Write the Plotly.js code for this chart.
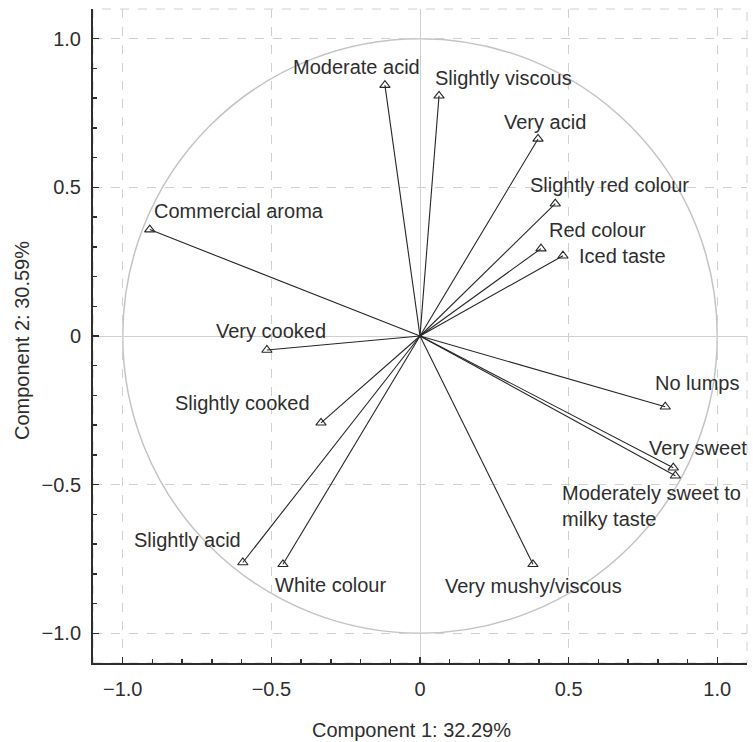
<!DOCTYPE html>
<html>
<head>
<meta charset="utf-8">
<script src="https://cdn.plot.ly/plotly-3.0.1.min.js"></script>
<style>html,body{margin:0;padding:0;background:#fff;}#chart{width:753px;height:742px;}</style>
</head>
<body>
<div id="chart"></div>
<script>
// Variable names
var labels = ["Commercial aroma","Moderate acid","Slightly viscous","Very acid","Slightly red colour",
  "Red colour","Iced taste","Very cooked","Slightly cooked","No lumps","Very sweet",
  "Moderately sweet to<br>milky taste","Slightly acid","White colour","Very mushy/viscous"];
// Component 1 loadings
var comp1 = [-0.909,-0.118,0.064,0.397,0.455,0.407,0.481,-0.515,-0.333,0.825,0.852,0.859,-0.596,-0.461,0.380];
// Component 2 loadings
var comp2 = [0.358,0.844,0.808,0.663,0.445,0.294,0.270,-0.047,-0.292,-0.238,-0.443,-0.470,-0.762,-0.768,-0.768];
// Tick labels
var tickVals = [-1,-0.5,0,0.5,1];
var tickText = ["\u22121.0","\u22120.5","0","0.5","1.0"];
var xTitle = "Component 1: 32.29%";
var yTitle = "Component 2: 30.59%";

// label placement (styling only)
var place = [
  {xa:"left",xs:2,ys:19},
  {xa:"right",xs:37,ys:18},
  {xa:"left",xs:-6,ys:18},
  {xa:"left",xs:-36,ys:17},
  {xa:"left",xs:-27,ys:19},
  {xa:"left",xs:6,ys:19},
  {xa:"left",xs:14,ys:0},
  {xa:"center",xs:4,ys:19},
  {xa:"right",xs:-9,ys:20},
  {xa:"left",xs:-12,ys:24},
  {xa:"left",xs:-26,ys:20},
  {xa:"left",xs:-115,ys:-30},
  {xa:"right",xs:0,ys:23},
  {xa:"left",xs:-10,ys:-21},
  {xa:"center",xs:1,ys:-22}
];

var lx = [], ly = [];
for (var i = 0; i < comp1.length; i++) {
  lx.push(0, comp1[i], null);
  ly.push(0, comp2[i], null);
}

var font = "Liberation Sans, Arial, sans-serif";
var ink = "#2e2e2e";
var fs = 20;

var traces = [
  {x: lx, y: ly, mode: "lines", type: "scatter", line: {color: "#262626", width: 1.1}, hoverinfo: "skip", showlegend: false},
  {x: comp1, y: comp2, mode: "markers", type: "scatter", text: labels,
   marker: {symbol: "triangle-up-open", size: 9, color: "#262626", line: {width: 1.1, color: "#262626"}},
   showlegend: false}
];

var annotations = labels.map(function(t, i) {
  return {x: comp1[i], y: comp2[i], xref: "x", yref: "y", text: t, showarrow: false,
    xanchor: place[i].xa, yanchor: "middle", xshift: place[i].xs, yshift: place[i].ys,
    align: "left", font: {family: font, size: fs, color: ink}};
});
annotations.push({xref: "paper", yref: "paper", x: 0.5, y: 0, xanchor: "center", yanchor: "middle",
  xshift: -9, yshift: -67, text: xTitle, showarrow: false, font: {family: font, size: fs, color: ink}});
annotations.push({xref: "paper", yref: "paper", x: 0, y: 0.5, xanchor: "center", yanchor: "middle",
  xshift: -71, yshift: -5, text: yTitle, textangle: -90, showarrow: false, font: {family: font, size: fs, color: ink}});

var axisCommon = {
  range: [-1.1, 1.1], tickvals: tickVals, ticktext: tickText,
  ticks: "inside", ticklen: 6, tickwidth: 1.5, tickcolor: ink,
  showline: true, linecolor: ink, linewidth: 2,
  showgrid: true, gridcolor: "#d0d0d0", gridwidth: 1, griddash: "dash",
  zeroline: true, zerolinecolor: "#d0d0d0", zerolinewidth: 1,
  tickfont: {family: font, size: fs, color: ink},
  minor: {dtick: 0.1, tick0: 0, ticks: "inside", ticklen: 4, tickwidth: 1.5, tickcolor: ink, showgrid: false},
  fixedrange: true
};

var layout = {
  width: 753, height: 742,
  margin: {l: 93, r: 6, t: 9, b: 79},
  paper_bgcolor: "#ffffff", plot_bgcolor: "#ffffff",
  showlegend: false,
  xaxis: Object.assign({}, axisCommon, {ticklabelstandoff: 7}),
  yaxis: Object.assign({}, axisCommon, {ticklabelstandoff: 6}),
  shapes: [
    {type: "circle", xref: "x", yref: "y", x0: -1, x1: 1, y0: -1, y1: 1, layer: "below",
     line: {color: "#c4c4c4", width: 1.5}},
    {type: "rect", xref: "paper", yref: "paper", x0: 0, x1: 1, y0: 0, y1: 1, layer: "below",
     line: {color: "#d0d0d0", width: 1, dash: "dash"}}
  ],
  annotations: annotations,
  font: {family: font, color: ink}
};

Plotly.newPlot("chart", traces, layout, {displayModeBar: false, staticPlot: true});
</script>
</body>
</html>
